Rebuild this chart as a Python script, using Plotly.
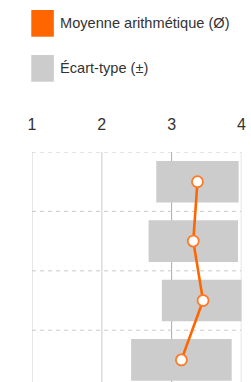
import plotly.graph_objects as go

# Data
rows = [0, 1, 2, 3]
means = [3.37, 3.31, 3.45, 3.14]
sds = [0.59, 0.64, 0.59, 0.72]
tick_vals = [1, 2, 3, 4]
tick_labels = ["1", "2", "3", "4"]
legend_labels = ["Moyenne arithmétique (Ø)", "Écart-type (±)"]

ORANGE = "#ff6600"
GRAY = "#cccccc"
TEXT = "#333333"
FONT = "Liberation Sans, Arial, sans-serif"

W, H = 251, 382
plot_top = 152
row_h = 59.4
x0_px, x1_px = 29, 246.3

lefts = [m - s for m, s in zip(means, sds)]
widths = [2 * s for s in sds]

fig = go.Figure()
fig.add_trace(go.Bar(
    y=rows, x=widths, base=lefts, orientation="h", width=0.7,
    marker=dict(color=GRAY, line=dict(width=0)), hoverinfo="skip",
    showlegend=False,
))
fig.add_trace(go.Scatter(
    y=rows, x=means, mode="lines+markers",
    line=dict(color=ORANGE, width=2.6),
    marker=dict(size=11, color="white", line=dict(color="#ff7a26", width=1.8)),
    showlegend=False, cliponaxis=False, hoverinfo="skip",
))

y_bottom = -0.5 + (H - plot_top) / row_h

# vertical grid lines
for v in tick_vals:
    fig.add_shape(type="line", xref="x", yref="y", x0=v, x1=v, y0=-0.5, y1=y_bottom,
                  line=dict(color="#aaaaaa" if v == 3 else "#dddddd",
                            width=1 if v == 3 else 1.5), layer="below")
# horizontal dashed separators
for b in [-0.5, 0.5, 1.5, 2.5, 3.5]:
    fig.add_shape(type="line", xref="x", yref="y", x0=1, x1=4, y0=b, y1=b,
                  line=dict(color="#c8c8c8", width=1, dash="4px,4px"), layer="below")

fig.update_layout(
    width=W, height=H,
    margin=dict(l=0, r=0, t=0, b=0),
    paper_bgcolor="white", plot_bgcolor="white",
    font=dict(family=FONT, color=TEXT),
    barmode="overlay",
    xaxis=dict(
        domain=[x0_px / W, x1_px / W], range=[1, 4], side="top",
        tickvals=tick_vals, ticktext=tick_labels, ticks="",
        tickfont=dict(size=16, color=TEXT, family=FONT),
        ticklabelstandoff=18,
        showgrid=False, zeroline=False, showline=False, fixedrange=True,
    ),
    yaxis=dict(
        domain=[0, (H - plot_top) / H], range=[y_bottom, -0.5],
        showticklabels=False, ticks="", showgrid=False,
        zeroline=False, showline=False, fixedrange=True,
    ),
)

# legend drawn as shapes + text
leg = [(ORANGE, 10, 36.7, legend_labels[0]),
       (GRAY, 55, 81.7, legend_labels[1])]
for color, top, bot, label in leg:
    fig.add_shape(type="rect", xref="paper", yref="paper",
                  x0=28.3 / W, x1=51.7 / W, y0=1 - bot / H, y1=1 - top / H,
                  fillcolor=color, line=dict(width=0))
    fig.add_annotation(xref="paper", yref="paper", x=56.5 / W, y=1 - (top + bot) / 2 / H,
                       text=label, showarrow=False, xanchor="left", yanchor="middle",
                       font=dict(size=14.6, color=TEXT, family=FONT))

fig.write_html(
    "out.html",
    config={"displayModeBar": False, "staticPlot": True},
    post_script="document.body.style.margin='0';document.body.style.overflow='hidden';",
)
